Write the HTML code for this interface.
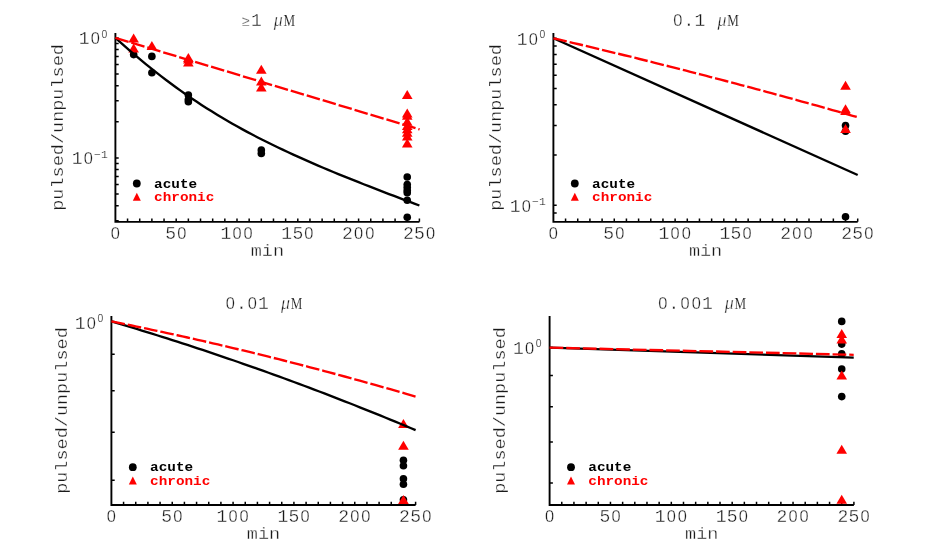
<!DOCTYPE html>
<html><head><meta charset="utf-8"><title>pulsed/unpulsed</title>
<style>html,body{margin:0;padding:0;background:#fff;}svg{display:block;will-change:transform;}text{font-family:"Liberation Mono", monospace;}.m{font-size:17.0px;fill:#1a1a1a;stroke:#fff;stroke-width:0.32px;}.e{font-size:11.4px;fill:#1a1a1a;stroke:#fff;stroke-width:0.22399999999999998px;}.d{font-size:18.0px;fill:#1a1a1a;stroke:#fff;stroke-width:0.32px;}.z{font-family:"Liberation Sans",sans-serif;font-size:16.4px;fill:#1a1a1a;stroke:#fff;stroke-width:0.3px;}.ez{font-family:"Liberation Sans",sans-serif;font-size:10.4px;fill:#1a1a1a;stroke:#fff;stroke-width:0.2px;}.mu{font-family:"Liberation Serif", serif;font-style:italic;font-size:18.0px;fill:#1a1a1a;stroke:#fff;stroke-width:0.35px;}.M{font-family:"Liberation Serif",serif;font-size:16.3px;fill:#1a1a1a;stroke:#fff;stroke-width:0.15px;}.ge{font-size:14.5px;fill:#222;stroke:#fff;stroke-width:0.4px;}.l{font-size:12.8px;font-weight:bold;}</style></head><body>
<svg width="926" height="556" viewBox="0 0 926 556">
<rect width="926" height="556" fill="#ffffff"/>
<path d="M115.4 33 V221.85 H419.4" fill="none" stroke="#000000" stroke-width="1.9" stroke-linecap="butt" stroke-linejoin="miter"/>
<path d="M127.56 221.85 v-3.3M139.72 221.85 v-3.3M151.88 221.85 v-3.3M164.04 221.85 v-3.3M176.2 221.85 v-3.3M188.36 221.85 v-3.3M200.52 221.85 v-3.3M212.68 221.85 v-3.3M224.84 221.85 v-3.3M237 221.85 v-3.3M249.16 221.85 v-3.3M261.32 221.85 v-3.3M273.48 221.85 v-3.3M285.64 221.85 v-3.3M297.8 221.85 v-3.3M309.96 221.85 v-3.3M322.12 221.85 v-3.3M334.28 221.85 v-3.3M346.44 221.85 v-3.3M358.6 221.85 v-3.3M370.76 221.85 v-3.3M382.92 221.85 v-3.3M395.08 221.85 v-3.3M407.24 221.85 v-3.3M419.4 221.85 v-3.3M115.4 37.9 h3.3M115.4 43.39 h3.3M115.4 49.53 h3.3M115.4 56.49 h3.3M115.4 64.52 h3.3M115.4 74.02 h3.3M115.4 85.65 h3.3M115.4 100.65 h3.3M115.4 121.78 h3.3M115.4 157.9 h3.3M115.4 163.39 h3.3M115.4 169.53 h3.3M115.4 176.49 h3.3M115.4 184.52 h3.3M115.4 194.02 h3.3M115.4 205.65 h3.3M115.4 220.65 h3.3" fill="none" stroke="#000000" stroke-width="1.5"/>
<circle cx="133.64" cy="54.6" r="3.8" fill="#000000"/>
<circle cx="151.88" cy="56.4" r="3.8" fill="#000000"/>
<circle cx="151.88" cy="72.8" r="3.8" fill="#000000"/>
<circle cx="188.36" cy="95" r="3.8" fill="#000000"/>
<circle cx="188.36" cy="99.6" r="3.8" fill="#000000"/>
<circle cx="188.36" cy="101.7" r="3.8" fill="#000000"/>
<circle cx="261.32" cy="150.1" r="3.8" fill="#000000"/>
<circle cx="261.32" cy="153.5" r="3.8" fill="#000000"/>
<circle cx="407.24" cy="177" r="3.8" fill="#000000"/>
<circle cx="407.24" cy="184.5" r="3.8" fill="#000000"/>
<circle cx="407.24" cy="187.5" r="3.8" fill="#000000"/>
<circle cx="407.24" cy="190.5" r="3.8" fill="#000000"/>
<circle cx="407.24" cy="192.8" r="3.8" fill="#000000"/>
<circle cx="407.24" cy="200.3" r="3.8" fill="#000000"/>
<circle cx="407.24" cy="217.3" r="3.8" fill="#000000"/>
<polygon points="128.34,42.6 138.94,42.6 133.64,33.6" fill="#ff0000"/>
<polygon points="128.34,52.4 138.94,52.4 133.64,43.4" fill="#ff0000"/>
<polygon points="146.58,50 157.18,50 151.88,41" fill="#ff0000"/>
<polygon points="183.06,62 193.66,62 188.36,53" fill="#ff0000"/>
<polygon points="183.06,63.4 193.66,63.4 188.36,54.4" fill="#ff0000"/>
<polygon points="183.06,66.4 193.66,66.4 188.36,57.4" fill="#ff0000"/>
<polygon points="256.02,73.8 266.62,73.8 261.32,64.8" fill="#ff0000"/>
<polygon points="256.02,85.4 266.62,85.4 261.32,76.4" fill="#ff0000"/>
<polygon points="256.02,91.6 266.62,91.6 261.32,82.6" fill="#ff0000"/>
<polygon points="401.94,99 412.54,99 407.24,90" fill="#ff0000"/>
<polygon points="401.94,117.4 412.54,117.4 407.24,108.4" fill="#ff0000"/>
<polygon points="401.94,119.8 412.54,119.8 407.24,110.8" fill="#ff0000"/>
<polygon points="401.94,125.7 412.54,125.7 407.24,116.7" fill="#ff0000"/>
<polygon points="401.94,129.9 412.54,129.9 407.24,120.9" fill="#ff0000"/>
<polygon points="401.94,133.3 412.54,133.3 407.24,124.3" fill="#ff0000"/>
<polygon points="401.94,136.8 412.54,136.8 407.24,127.8" fill="#ff0000"/>
<polygon points="401.94,140.6 412.54,140.6 407.24,131.6" fill="#ff0000"/>
<polygon points="401.94,147.4 412.54,147.4 407.24,138.4" fill="#ff0000"/>
<path d="M115.4 37.9 L120.47 42.44 L125.53 46.91 L130.6 51.31 L135.67 55.64 L140.73 59.89 L145.8 64.07 L150.87 68.17 L155.93 72.2 L161 76.14 L166.07 80.01 L171.13 83.8 L176.2 87.51 L181.27 91.15 L186.33 94.71 L191.4 98.19 L196.47 101.59 L201.53 104.93 L206.6 108.19 L211.67 111.37 L216.73 114.49 L221.8 117.54 L226.87 120.53 L231.93 123.45 L237 126.31 L242.07 129.11 L247.13 131.85 L252.2 134.54 L257.27 137.18 L262.33 139.77 L267.4 142.31 L272.47 144.8 L277.53 147.25 L282.6 149.66 L287.67 152.03 L292.73 154.37 L297.8 156.67 L302.87 158.94 L307.93 161.17 L313 163.38 L318.07 165.56 L323.13 167.72 L328.2 169.85 L333.27 171.96 L338.33 174.05 L343.4 176.11 L348.47 178.16 L353.53 180.2 L358.6 182.21 L363.67 184.22 L368.73 186.2 L373.8 188.18 L378.87 190.14 L383.93 192.09 L389 194.03 L394.07 195.97 L399.13 197.89 L404.2 199.8 L409.27 201.71 L414.33 203.61 L419.4 205.5" fill="none" stroke="#000000" stroke-width="2.35"/>
<path d="M115.4 37.9 L419.6 129.4" fill="none" stroke="#ff0000" stroke-width="2.35" stroke-dasharray="13.7 2.95"/>
<text y="238.75" text-anchor="middle"><tspan x="115.4" class="z">0</tspan></text>
<text y="238.75" text-anchor="middle"><tspan x="170.65" class="d">5</tspan><tspan x="181.75" class="z">0</tspan></text>
<text y="238.75" text-anchor="middle"><tspan x="225.9" class="d">1</tspan><tspan x="237" class="z">0</tspan><tspan x="248.1" class="z">0</tspan></text>
<text y="238.75" text-anchor="middle"><tspan x="286.7" class="d">1</tspan><tspan x="297.8" class="d">5</tspan><tspan x="308.9" class="z">0</tspan></text>
<text y="238.75" text-anchor="middle"><tspan x="347.5" class="d">2</tspan><tspan x="358.6" class="z">0</tspan><tspan x="369.7" class="z">0</tspan></text>
<text y="238.75" text-anchor="middle"><tspan x="408.3" class="d">2</tspan><tspan x="419.4" class="d">5</tspan><tspan x="430.5" class="z">0</tspan></text>
<text transform="translate(267.4 256.05) scale(1.09 1)" text-anchor="middle" class="m">min</text>
<text transform="translate(62.9 127.42) rotate(-90) scale(1.09 1)" text-anchor="middle" class="m">pulsed/unpulsed</text>
<text y="44.4" text-anchor="middle"><tspan x="84.15" class="d">1</tspan><tspan x="95.25" class="z">0</tspan></text>
<text y="37.5" text-anchor="middle"><tspan x="104.38" class="ez">0</tspan></text>
<text y="164.4" text-anchor="middle"><tspan x="77.15" class="d">1</tspan><tspan x="88.25" class="z">0</tspan></text>
<text y="157.5" text-anchor="middle"><tspan x="97.54" class="e">−</tspan><tspan x="104.38" class="e">1</tspan></text>
<text x="249.85" y="26" text-anchor="end" class="ge">≥</text>
<text y="26" text-anchor="middle"><tspan x="256.3" class="d">1</tspan></text>
<text x="273.85" y="26" class="mu">μ</text>
<text transform="translate(283.45 26) scale(0.8 1)" class="M">M</text>
<circle cx="136.8" cy="183.5" r="3.9" fill="#000000"/>
<polygon points="132.8,200.8 140.8,200.8 136.8,192.8" fill="#ff0000"/>
<text transform="translate(154.1 187.6) scale(1.12 1)" class="l" fill="#000000">acute</text>
<text transform="translate(154.1 201.2) scale(1.12 1)" class="l" fill="#ff0000">chronic</text>
<path d="M553.4 33 V221.85 H857.7" fill="none" stroke="#000000" stroke-width="1.9" stroke-linecap="butt" stroke-linejoin="miter"/>
<path d="M565.57 221.85 v-3.3M577.74 221.85 v-3.3M589.92 221.85 v-3.3M602.09 221.85 v-3.3M614.26 221.85 v-3.3M626.43 221.85 v-3.3M638.6 221.85 v-3.3M650.78 221.85 v-3.3M662.95 221.85 v-3.3M675.12 221.85 v-3.3M687.29 221.85 v-3.3M699.46 221.85 v-3.3M711.64 221.85 v-3.3M723.81 221.85 v-3.3M735.98 221.85 v-3.3M748.15 221.85 v-3.3M760.32 221.85 v-3.3M772.5 221.85 v-3.3M784.67 221.85 v-3.3M796.84 221.85 v-3.3M809.01 221.85 v-3.3M821.18 221.85 v-3.3M833.36 221.85 v-3.3M845.53 221.85 v-3.3M857.7 221.85 v-3.3M553.4 38.3 h3.3M553.4 45.94 h3.3M553.4 54.48 h3.3M553.4 64.17 h3.3M553.4 75.35 h3.3M553.4 88.57 h3.3M553.4 104.76 h3.3M553.4 125.62 h3.3M553.4 155.03 h3.3M553.4 205.3 h3.3M553.4 212.94 h3.3" fill="none" stroke="#000000" stroke-width="1.5"/>
<circle cx="845.53" cy="125.5" r="3.8" fill="#000000"/>
<circle cx="845.53" cy="131.2" r="3.8" fill="#000000"/>
<circle cx="845.53" cy="216.8" r="3.8" fill="#000000"/>
<polygon points="840.23,89.8 850.83,89.8 845.53,80.8" fill="#ff0000"/>
<polygon points="840.23,113.2 850.83,113.2 845.53,104.2" fill="#ff0000"/>
<polygon points="840.23,115.1 850.83,115.1 845.53,106.1" fill="#ff0000"/>
<polygon points="840.23,133 850.83,133 845.53,124" fill="#ff0000"/>
<path d="M553.4 38.3 L857.7 175" fill="none" stroke="#000000" stroke-width="2.35"/>
<path d="M553.4 38.3 L558.47 39.48 L563.54 40.67 L568.62 41.85 L573.69 43.05 L578.76 44.25 L583.83 45.45 L588.9 46.66 L593.97 47.87 L599.04 49.09 L604.12 50.31 L609.19 51.53 L614.26 52.77 L619.33 54 L624.4 55.24 L629.48 56.48 L634.55 57.73 L639.62 58.99 L644.69 60.25 L649.76 61.51 L654.83 62.77 L659.9 64.05 L664.98 65.32 L670.05 66.6 L675.12 67.89 L680.19 69.18 L685.26 70.47 L690.34 71.77 L695.41 73.08 L700.48 74.39 L705.55 75.7 L710.62 77.02 L715.69 78.34 L720.76 79.67 L725.84 81 L730.91 82.33 L735.98 83.67 L741.05 85.02 L746.12 86.37 L751.2 87.72 L756.27 89.08 L761.34 90.44 L766.41 91.81 L771.48 93.18 L776.55 94.56 L781.62 95.94 L786.7 97.33 L791.77 98.72 L796.84 100.11 L801.91 101.51 L806.98 102.92 L812.06 104.33 L817.13 105.74 L822.2 107.16 L827.27 108.58 L832.34 110.01 L837.41 111.44 L842.49 112.88 L847.56 114.32 L852.63 115.76 L857.7 117.22" fill="none" stroke="#ff0000" stroke-width="2.35" stroke-dasharray="13.7 2.95"/>
<text y="238.75" text-anchor="middle"><tspan x="553.4" class="z">0</tspan></text>
<text y="238.75" text-anchor="middle"><tspan x="608.71" class="d">5</tspan><tspan x="619.81" class="z">0</tspan></text>
<text y="238.75" text-anchor="middle"><tspan x="664.02" class="d">1</tspan><tspan x="675.12" class="z">0</tspan><tspan x="686.22" class="z">0</tspan></text>
<text y="238.75" text-anchor="middle"><tspan x="724.88" class="d">1</tspan><tspan x="735.98" class="d">5</tspan><tspan x="747.08" class="z">0</tspan></text>
<text y="238.75" text-anchor="middle"><tspan x="785.74" class="d">2</tspan><tspan x="796.84" class="z">0</tspan><tspan x="807.94" class="z">0</tspan></text>
<text y="238.75" text-anchor="middle"><tspan x="846.6" class="d">2</tspan><tspan x="857.7" class="d">5</tspan><tspan x="868.8" class="z">0</tspan></text>
<text transform="translate(705.55 256.05) scale(1.09 1)" text-anchor="middle" class="m">min</text>
<text transform="translate(500.8 127.42) rotate(-90) scale(1.09 1)" text-anchor="middle" class="m">pulsed/unpulsed</text>
<text y="45" text-anchor="middle"><tspan x="522.15" class="d">1</tspan><tspan x="533.25" class="z">0</tspan></text>
<text y="38.1" text-anchor="middle"><tspan x="542.38" class="ez">0</tspan></text>
<text y="212" text-anchor="middle"><tspan x="515.15" class="d">1</tspan><tspan x="526.25" class="z">0</tspan></text>
<text y="205.1" text-anchor="middle"><tspan x="535.54" class="e">−</tspan><tspan x="542.38" class="e">1</tspan></text>
<text y="26" text-anchor="middle"><tspan x="677.8" class="z">0</tspan><tspan x="688.9" class="d">.</tspan><tspan x="700" class="d">1</tspan></text>
<text x="717.55" y="26" class="mu">μ</text>
<text transform="translate(727.15 26) scale(0.8 1)" class="M">M</text>
<circle cx="574.8" cy="183.5" r="3.9" fill="#000000"/>
<polygon points="570.8,200.8 578.8,200.8 574.8,192.8" fill="#ff0000"/>
<text transform="translate(592.1 187.6) scale(1.12 1)" class="l" fill="#000000">acute</text>
<text transform="translate(592.1 201.2) scale(1.12 1)" class="l" fill="#ff0000">chronic</text>
<path d="M111.4 316.1 V505 H415.6" fill="none" stroke="#000000" stroke-width="1.9" stroke-linecap="butt" stroke-linejoin="miter"/>
<path d="M123.57 505 v-3.3M135.74 505 v-3.3M147.9 505 v-3.3M160.07 505 v-3.3M172.24 505 v-3.3M184.41 505 v-3.3M196.58 505 v-3.3M208.74 505 v-3.3M220.91 505 v-3.3M233.08 505 v-3.3M245.25 505 v-3.3M257.42 505 v-3.3M269.58 505 v-3.3M281.75 505 v-3.3M293.92 505 v-3.3M306.09 505 v-3.3M318.26 505 v-3.3M330.42 505 v-3.3M342.59 505 v-3.3M354.76 505 v-3.3M366.93 505 v-3.3M379.1 505 v-3.3M391.26 505 v-3.3M403.43 505 v-3.3M415.6 505 v-3.3M111.4 321.4 h3.3M111.4 354.16 h3.3M111.4 390.79 h3.3M111.4 432.31 h3.3M111.4 480.24 h3.3" fill="none" stroke="#000000" stroke-width="1.5"/>
<circle cx="403.43" cy="460.3" r="3.8" fill="#000000"/>
<circle cx="403.43" cy="465.7" r="3.8" fill="#000000"/>
<circle cx="403.43" cy="478.7" r="3.8" fill="#000000"/>
<circle cx="403.43" cy="484.3" r="3.8" fill="#000000"/>
<circle cx="403.43" cy="499.7" r="3.8" fill="#000000"/>
<polygon points="398.13,427.9 408.73,427.9 403.43,418.9" fill="#ff0000"/>
<polygon points="398.13,449.7 408.73,449.7 403.43,440.7" fill="#ff0000"/>
<polygon points="398.13,503.9 408.73,503.9 403.43,494.9" fill="#ff0000"/>
<path d="M111.4 321.4 L116.47 322.9 L121.54 324.4 L126.61 325.92 L131.68 327.45 L136.75 328.99 L141.82 330.54 L146.89 332.1 L151.96 333.67 L157.03 335.25 L162.1 336.84 L167.17 338.45 L172.24 340.06 L177.31 341.68 L182.38 343.32 L187.45 344.97 L192.52 346.62 L197.59 348.29 L202.66 349.97 L207.73 351.66 L212.8 353.36 L217.87 355.07 L222.94 356.79 L228.01 358.52 L233.08 360.26 L238.15 362.01 L243.22 363.78 L248.29 365.55 L253.36 367.34 L258.43 369.13 L263.5 370.94 L268.57 372.75 L273.64 374.58 L278.71 376.42 L283.78 378.27 L288.85 380.13 L293.92 382 L298.99 383.88 L304.06 385.77 L309.13 387.68 L314.2 389.59 L319.27 391.51 L324.34 393.45 L329.41 395.39 L334.48 397.35 L339.55 399.32 L344.62 401.29 L349.69 403.28 L354.76 405.28 L359.83 407.29 L364.9 409.31 L369.97 411.34 L375.04 413.38 L380.11 415.43 L385.18 417.5 L390.25 419.57 L395.32 421.66 L400.39 423.75 L405.46 425.86 L410.53 427.97 L415.6 430.1" fill="none" stroke="#000000" stroke-width="2.35"/>
<path d="M111.4 321.4 L116.47 322.42 L121.54 323.45 L126.61 324.48 L131.68 325.52 L136.75 326.57 L141.82 327.63 L146.89 328.7 L151.96 329.78 L157.03 330.86 L162.1 331.95 L167.17 333.05 L172.24 334.15 L177.31 335.27 L182.38 336.39 L187.45 337.52 L192.52 338.66 L197.59 339.8 L202.66 340.96 L207.73 342.12 L212.8 343.29 L217.87 344.47 L222.94 345.65 L228.01 346.85 L233.08 348.05 L238.15 349.26 L243.22 350.48 L248.29 351.7 L253.36 352.94 L258.43 354.18 L263.5 355.43 L268.57 356.68 L273.64 357.95 L278.71 359.22 L283.78 360.5 L288.85 361.79 L293.92 363.09 L298.99 364.39 L304.06 365.71 L309.13 367.03 L314.2 368.36 L319.27 369.69 L324.34 371.04 L329.41 372.39 L334.48 373.75 L339.55 375.12 L344.62 376.5 L349.69 377.88 L354.76 379.27 L359.83 380.67 L364.9 382.08 L369.97 383.5 L375.04 384.92 L380.11 386.35 L385.18 387.79 L390.25 389.24 L395.32 390.7 L400.39 392.16 L405.46 393.63 L410.53 395.11 L415.6 396.6" fill="none" stroke="#ff0000" stroke-width="2.35" stroke-dasharray="13.7 2.95"/>
<text y="521.9" text-anchor="middle"><tspan x="111.4" class="z">0</tspan></text>
<text y="521.9" text-anchor="middle"><tspan x="166.69" class="d">5</tspan><tspan x="177.79" class="z">0</tspan></text>
<text y="521.9" text-anchor="middle"><tspan x="221.98" class="d">1</tspan><tspan x="233.08" class="z">0</tspan><tspan x="244.18" class="z">0</tspan></text>
<text y="521.9" text-anchor="middle"><tspan x="282.82" class="d">1</tspan><tspan x="293.92" class="d">5</tspan><tspan x="305.02" class="z">0</tspan></text>
<text y="521.9" text-anchor="middle"><tspan x="343.66" class="d">2</tspan><tspan x="354.76" class="z">0</tspan><tspan x="365.86" class="z">0</tspan></text>
<text y="521.9" text-anchor="middle"><tspan x="404.5" class="d">2</tspan><tspan x="415.6" class="d">5</tspan><tspan x="426.7" class="z">0</tspan></text>
<text transform="translate(263.5 539.2) scale(1.09 1)" text-anchor="middle" class="m">min</text>
<text transform="translate(67 410.55) rotate(-90) scale(1.09 1)" text-anchor="middle" class="m">pulsed/unpulsed</text>
<text y="328.6" text-anchor="middle"><tspan x="80.15" class="d">1</tspan><tspan x="91.25" class="z">0</tspan></text>
<text y="321.7" text-anchor="middle"><tspan x="100.38" class="ez">0</tspan></text>
<text y="309.1" text-anchor="middle"><tspan x="230.2" class="z">0</tspan><tspan x="241.3" class="d">.</tspan><tspan x="252.4" class="z">0</tspan><tspan x="263.5" class="d">1</tspan></text>
<text x="281.05" y="309.1" class="mu">μ</text>
<text transform="translate(290.65 309.1) scale(0.8 1)" class="M">M</text>
<circle cx="132.8" cy="467.2" r="3.9" fill="#000000"/>
<polygon points="128.8,484.5 136.8,484.5 132.8,476.5" fill="#ff0000"/>
<text transform="translate(150.1 471.3) scale(1.12 1)" class="l" fill="#000000">acute</text>
<text transform="translate(150.1 484.9) scale(1.12 1)" class="l" fill="#ff0000">chronic</text>
<path d="M549.6 316.1 V505 H853.9" fill="none" stroke="#000000" stroke-width="1.9" stroke-linecap="butt" stroke-linejoin="miter"/>
<path d="M561.77 505 v-3.3M573.94 505 v-3.3M586.12 505 v-3.3M598.29 505 v-3.3M610.46 505 v-3.3M622.63 505 v-3.3M634.8 505 v-3.3M646.98 505 v-3.3M659.15 505 v-3.3M671.32 505 v-3.3M683.49 505 v-3.3M695.66 505 v-3.3M707.84 505 v-3.3M720.01 505 v-3.3M732.18 505 v-3.3M744.35 505 v-3.3M756.52 505 v-3.3M768.7 505 v-3.3M780.87 505 v-3.3M793.04 505 v-3.3M805.21 505 v-3.3M817.38 505 v-3.3M829.56 505 v-3.3M841.73 505 v-3.3M853.9 505 v-3.3M549.6 347.6 h3.3M549.6 375.51 h3.3M549.6 406.72 h3.3M549.6 442.09 h3.3M549.6 482.93 h3.3" fill="none" stroke="#000000" stroke-width="1.5"/>
<circle cx="841.73" cy="321.4" r="3.8" fill="#000000"/>
<circle cx="841.73" cy="344.1" r="3.8" fill="#000000"/>
<circle cx="841.73" cy="353.9" r="3.8" fill="#000000"/>
<circle cx="841.73" cy="369" r="3.8" fill="#000000"/>
<circle cx="841.73" cy="396.6" r="3.8" fill="#000000"/>
<polygon points="836.43,338 847.03,338 841.73,329" fill="#ff0000"/>
<polygon points="836.43,343.5 847.03,343.5 841.73,334.5" fill="#ff0000"/>
<polygon points="836.43,379.6 847.03,379.6 841.73,370.6" fill="#ff0000"/>
<polygon points="836.43,453.7 847.03,453.7 841.73,444.7" fill="#ff0000"/>
<polygon points="836.43,503.8 847.03,503.8 841.73,494.8" fill="#ff0000"/>
<path d="M549.6 347.6 L853.7 357.6" fill="none" stroke="#000000" stroke-width="2.35"/>
<path d="M549.6 347.6 L853.7 354.8" fill="none" stroke="#ff0000" stroke-width="2.35" stroke-dasharray="13.7 2.95"/>
<text y="521.9" text-anchor="middle"><tspan x="549.6" class="z">0</tspan></text>
<text y="521.9" text-anchor="middle"><tspan x="604.91" class="d">5</tspan><tspan x="616.01" class="z">0</tspan></text>
<text y="521.9" text-anchor="middle"><tspan x="660.22" class="d">1</tspan><tspan x="671.32" class="z">0</tspan><tspan x="682.42" class="z">0</tspan></text>
<text y="521.9" text-anchor="middle"><tspan x="721.08" class="d">1</tspan><tspan x="732.18" class="d">5</tspan><tspan x="743.28" class="z">0</tspan></text>
<text y="521.9" text-anchor="middle"><tspan x="781.94" class="d">2</tspan><tspan x="793.04" class="z">0</tspan><tspan x="804.14" class="z">0</tspan></text>
<text y="521.9" text-anchor="middle"><tspan x="842.8" class="d">2</tspan><tspan x="853.9" class="d">5</tspan><tspan x="865" class="z">0</tspan></text>
<text transform="translate(701.75 539.2) scale(1.09 1)" text-anchor="middle" class="m">min</text>
<text transform="translate(505.2 410.55) rotate(-90) scale(1.09 1)" text-anchor="middle" class="m">pulsed/unpulsed</text>
<text y="354.3" text-anchor="middle"><tspan x="518.35" class="d">1</tspan><tspan x="529.45" class="z">0</tspan></text>
<text y="347.4" text-anchor="middle"><tspan x="538.58" class="ez">0</tspan></text>
<text y="309.1" text-anchor="middle"><tspan x="662.9" class="z">0</tspan><tspan x="674" class="d">.</tspan><tspan x="685.1" class="z">0</tspan><tspan x="696.2" class="z">0</tspan><tspan x="707.3" class="d">1</tspan></text>
<text x="724.85" y="309.1" class="mu">μ</text>
<text transform="translate(734.45 309.1) scale(0.8 1)" class="M">M</text>
<circle cx="571" cy="467.2" r="3.9" fill="#000000"/>
<polygon points="567,484.5 575,484.5 571,476.5" fill="#ff0000"/>
<text transform="translate(588.3 471.3) scale(1.12 1)" class="l" fill="#000000">acute</text>
<text transform="translate(588.3 484.9) scale(1.12 1)" class="l" fill="#ff0000">chronic</text>
</svg></body></html>
